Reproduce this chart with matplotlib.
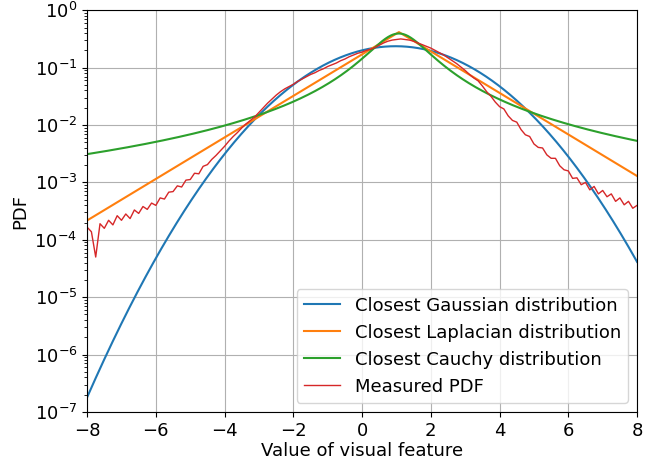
import numpy as np
import matplotlib.pyplot as plt

# fitted distribution parameters
gauss_mu, gauss_sigma = 0.97, 1.69
laplace_mu, laplace_b = 1.07, 1.20
cauchy_x0, cauchy_gamma = 1.07, 0.81

# measured histogram, log10 of density on a 0.125 grid from -8 to 8
meas_x = np.linspace(-8, 8, 129)
meas_log = -np.array([
    3.78, 3.86, 4.30, 3.72, 3.80, 3.66, 3.74, 3.58,
    3.66, 3.55, 3.63, 3.48, 3.54, 3.42, 3.47, 3.36,
    3.40, 3.27, 3.29, 3.17, 3.16, 3.06, 3.08, 2.96,
    2.95, 2.84, 2.85, 2.72, 2.69, 2.60, 2.53, 2.45,
    2.37, 2.28, 2.20, 2.13, 2.05, 1.98, 1.92, 1.86,
    1.78, 1.70, 1.62, 1.55, 1.48, 1.42, 1.37, 1.33,
    1.29, 1.24, 1.20, 1.16, 1.12, 1.09, 1.05, 1.02,
    0.98, 0.95, 0.92, 0.88, 0.85, 0.81, 0.78, 0.75,
    0.73, 0.70, 0.68, 0.65, 0.61, 0.57, 0.54, 0.52,
    0.51, 0.50, 0.51, 0.52, 0.54, 0.57, 0.60, 0.63,
    0.66, 0.70, 0.74, 0.78, 0.83, 0.88, 0.93, 0.99,
    1.05, 1.12, 1.18, 1.23, 1.32, 1.42, 1.50, 1.60,
    1.68, 1.72, 1.84, 1.92, 1.95, 2.08, 2.17, 2.20,
    2.33, 2.39, 2.40, 2.52, 2.58, 2.58, 2.71, 2.78,
    2.80, 2.93, 2.92, 3.04, 3.00, 3.13, 3.07, 3.20,
    3.14, 3.25, 3.20, 3.33, 3.27, 3.39, 3.33, 3.45,
    3.40])

plt.rcParams['font.size'] = 13

x = np.linspace(-8, 8, 2001)
gauss = np.exp(-(x - gauss_mu)**2 / (2 * gauss_sigma**2)) / (gauss_sigma * np.sqrt(2 * np.pi))
laplace = np.exp(-np.abs(x - laplace_mu) / laplace_b) / (2 * laplace_b)
cauchy = cauchy_gamma / (np.pi * ((x - cauchy_x0)**2 + cauchy_gamma**2))

fig = plt.figure(figsize=(6.65, 4.65), dpi=100)
ax = fig.add_axes([0.131, 0.114, 0.827, 0.864])
ax.plot(x, gauss, label='Closest Gaussian distribution')
ax.plot(x, laplace, label='Closest Laplacian distribution')
ax.plot(x, cauchy, label='Closest Cauchy distribution')
ax.plot(meas_x, 10**meas_log, color='tab:red', lw=1, label='Measured PDF')
ax.set_yscale('log')
ax.set_xlim(-8, 8)
ax.set_ylim(1e-7, 1)
ax.set_xlabel('Value of visual feature', labelpad=2)
ax.set_ylabel('PDF')
ax.grid(True)
ax.legend(loc='lower right')
fig.savefig('out.png')
